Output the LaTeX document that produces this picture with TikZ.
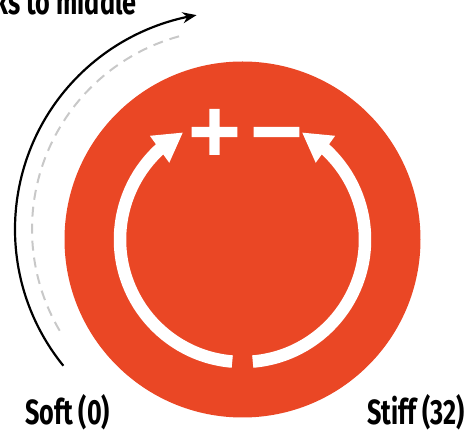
\documentclass[tikz,border=0pt]{standalone}
\usepackage{fontspec}
\usetikzlibrary{arrows.meta,bending,calc}
\newfontfamily\lblfont[FakeStretch=0.72]{Fira Sans}
\newfontfamily\symfont[FakeBold=3]{DejaVu Sans}
\definecolor{knobred}{RGB}{234,71,37}
\definecolor{dashgray}{RGB}{200,200,200}
\tikzset{
  lbl/.style={inner sep=0pt, font=\lblfont\bfseries\fontsize{35}{40}\selectfont},
  sym/.style={inner sep=0pt, text=white, font=\symfont\bfseries\fontsize{70}{70}\selectfont},
  ringarc/.style={draw=white, line width=12.5pt, line cap=butt},
  whitehead/.style={-{Triangle[length=29pt,width=31pt,fill=white]}},
}
\begin{document}
\begin{tikzpicture}[x=1pt,y=1pt]
\useasboundingbox (0,0) rectangle (472,434);
\clip (0,0) rectangle (472,434);
% knob
\fill[knobred] (242.5,194.5) circle[radius=178];
\coordinate (kc) at (242.5,194.5);
% white ring arrows
\draw[ringarc, whitehead] ($(kc)+(265.2:122.5)$) arc[start angle=265.2, end angle=119, radius=122.5];
\draw[ringarc, whitehead] ($(kc)+(-85.2:122.5)$) arc[start angle=-85.2, end angle=61, radius=122.5];
% plus and minus
\node[sym] (plus) at (214.5,302) {+};
\node[sym, anchor=base] (minus) at ($(plus.base)+(62,0)$) {−};
% outer arcs
\coordinate (oc) at (232,204.8);
\draw[dashgray, line width=2pt, dash pattern=on 10pt off 7pt] ($(oc)+(210.5:200)$) arc[start angle=210.5, end angle=104.1, radius=200];
\draw[black, line width=2.2pt, -{Stealth[length=14pt,width=11pt]}] ($(oc)+(219:217)$) arc[start angle=219, end angle=99.4, radius=217];
% labels
\node[lbl, anchor=base west] (soft) at (25,9) {Soft (0)};
\node[lbl, anchor=base east] (stiff) at (465,9) {Stiff (32)};
\node[lbl, anchor=base east] (top) at (136.7,419) {ks to middle};
\end{tikzpicture}
\end{document}
